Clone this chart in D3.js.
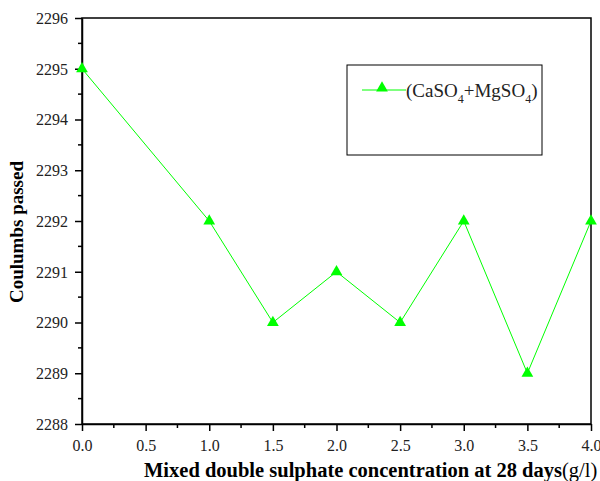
<!DOCTYPE html>
<html>
<head>
<meta charset="utf-8">
<script src="https://cdn.jsdelivr.net/npm/d3@7"></script>
<style>
  body { margin: 0; background: #fff; }
  svg { font-family: "Liberation Serif", "Times New Roman", serif; }
</style>
</head>
<body>
<svg id="chart" width="600" height="481"></svg>
<script>
// data
const concentration = [0, 1, 1.5, 2, 2.5, 3, 3.5, 4];
const coulombs = [2295, 2292, 2290, 2291, 2290, 2292, 2289, 2292];
const xTicks = [0, 0.5, 1, 1.5, 2, 2.5, 3, 3.5, 4];
const yTicks = [2288, 2289, 2290, 2291, 2292, 2293, 2294, 2295, 2296];

const plotLeft = 82, plotRight = 591, plotTop = 18, plotBottom = 424;
const green = "#00ff00";
const serif = "'Liberation Serif', 'Times New Roman', serif";

const svg = d3.select("#chart");

const x = d3.scaleLinear().domain([0, 4]).range([plotLeft, plotRight]);
const y = d3.scaleLinear().domain([2288, 2296]).range([plotBottom, plotTop]);

// frame
svg.append("rect")
  .attr("x", plotLeft).attr("y", plotTop)
  .attr("width", plotRight - plotLeft).attr("height", plotBottom - plotTop)
  .attr("fill", "none").attr("stroke", "#000").attr("stroke-width", 1.5);

// minor ticks
const xMinor = d3.range(0.25, 4, 0.5);
const yMinor = d3.range(2288.5, 2296, 1);
svg.selectAll(".xminor").data(xMinor).enter().append("line")
  .attr("x1", d => x(d)).attr("x2", d => x(d))
  .attr("y1", plotBottom).attr("y2", plotBottom + 4)
  .attr("stroke", "#000").attr("stroke-width", 1.5);
svg.selectAll(".yminor").data(yMinor).enter().append("line")
  .attr("x1", plotLeft - 4).attr("x2", plotLeft)
  .attr("y1", d => y(d)).attr("y2", d => y(d))
  .attr("stroke", "#000").attr("stroke-width", 1.5);

// major axes
const xAxis = svg.append("g")
  .attr("transform", `translate(0,${plotBottom})`)
  .call(d3.axisBottom(x).tickValues(xTicks).tickFormat(d3.format(".1f")).tickSize(7).tickSizeOuter(0));
const yAxis = svg.append("g")
  .attr("transform", `translate(${plotLeft},0)`)
  .call(d3.axisLeft(y).tickValues(yTicks).tickFormat(d3.format("d")).tickSize(7).tickSizeOuter(0));

[xAxis, yAxis].forEach(g => {
  g.attr("font-family", serif);
  g.select(".domain").attr("stroke-width", 1.5);
  g.selectAll(".tick line").attr("stroke-width", 1.5);
  g.selectAll("text").attr("font-size", 16).attr("fill", "#222");
});
xAxis.selectAll("text").attr("y", 27).attr("dy", 0);
yAxis.selectAll("text").attr("x", -14).attr("dy", "0.34em");

// line and markers
const line = d3.line().x((d, i) => x(concentration[i])).y(d => y(d));
svg.append("path")
  .datum(coulombs)
  .attr("d", line)
  .attr("fill", "none").attr("stroke", green).attr("stroke-width", 1);

const tri = d3.symbol().type(d3.symbolTriangle).size(60);
svg.selectAll(".pt").data(coulombs).enter().append("path")
  .attr("d", tri)
  .attr("transform", (d, i) => `translate(${x(concentration[i])},${y(d)})`)
  .attr("fill", green);

// axis titles
const xt = svg.append("text")
  .attr("x", 144).attr("y", 477)
  .attr("font-family", serif)
  .attr("font-size", 20.5).attr("fill", "#000");
xt.append("tspan").attr("font-weight", "bold").text("Mixed double sulphate concentration at 28 days");
xt.append("tspan").text("(g/l)");

svg.append("text")
  .attr("transform", `translate(23,232) rotate(-90)`)
  .attr("text-anchor", "middle")
  .attr("font-family", serif)
  .attr("font-size", 19).attr("font-weight", "bold").attr("fill", "#000")
  .text("Coulumbs passed");

// legend
svg.append("rect")
  .attr("x", 347).attr("y", 65).attr("width", 195).attr("height", 90)
  .attr("fill", "#fff").attr("stroke", "#000").attr("stroke-width", 1);
svg.append("line")
  .attr("x1", 362).attr("x2", 406).attr("y1", 90).attr("y2", 90)
  .attr("stroke", green).attr("stroke-width", 1);
svg.append("path")
  .attr("d", tri)
  .attr("transform", "translate(382,88)")
  .attr("fill", green);
const lt = svg.append("text")
  .attr("x", 406).attr("y", 97)
  .attr("font-family", serif)
  .attr("font-size", 19).attr("fill", "#222");
lt.append("tspan").text("(CaSO");
lt.append("tspan").attr("font-size", 12).attr("dy", 6).text("4");
lt.append("tspan").attr("dy", -6).text("+MgSO");
lt.append("tspan").attr("font-size", 12).attr("dy", 6).text("4");
lt.append("tspan").attr("dy", -6).text(")");
</script>
</body>
</html>
